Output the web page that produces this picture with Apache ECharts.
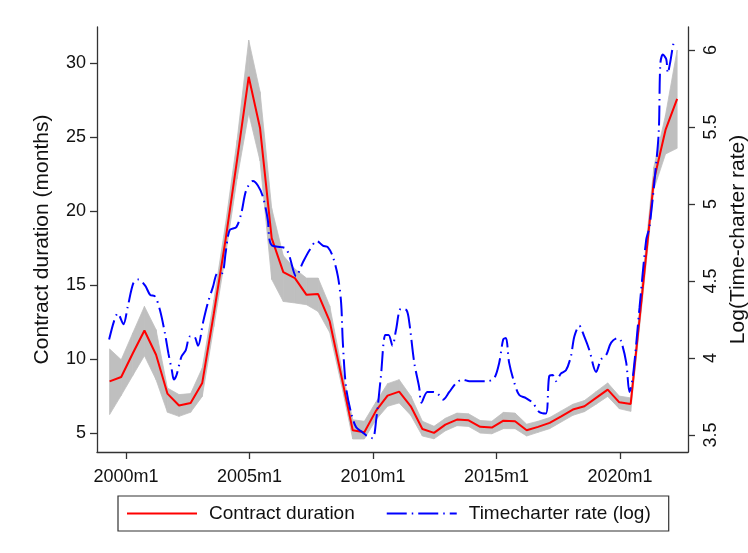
<!DOCTYPE html>
<html>
<head>
<meta charset="utf-8">
<script src="https://cdn.jsdelivr.net/npm/echarts@6/dist/echarts.min.js"></script>
<style>
  html, body { margin: 0; padding: 0; background: #fff; }
  #chart { width: 748px; height: 553px; }
</style>
</head>
<body>
<div id="chart"></div>
<script>
// Contract duration (months), sampled roughly twice a year, with its confidence band
const durationDates = [
  1999.34, 1999.81, 2000.28, 2000.75, 2001.22, 2001.68, 2002.15, 2002.62, 2003.09, 2003.56,
  2004.03, 2004.50, 2004.97, 2005.43, 2005.90, 2006.37, 2006.84, 2007.31, 2007.78, 2008.25,
  2008.72, 2009.18, 2009.65, 2010.12, 2010.59, 2011.06, 2011.53, 2012.00, 2012.47, 2012.93,
  2013.40, 2013.87, 2014.34, 2014.81, 2015.28, 2015.75, 2016.22, 2016.68, 2017.15, 2017.62,
  2018.09, 2018.56, 2019.03, 2019.50, 2019.97, 2020.43, 2020.90, 2021.37, 2021.84, 2022.31
];
const duration = [
  8.50, 8.79, 10.4, 11.94, 10.30, 7.67, 6.86, 7.04, 8.39, 13.09,
  18.03, 23.48, 29.09, 25.61, 18.18, 15.88, 15.48, 14.35, 14.40, 12.55,
  8.87, 5.19, 5.05, 6.50, 7.53, 7.80, 6.81, 5.28, 5.01, 5.57,
  5.91, 5.86, 5.42, 5.37, 5.84, 5.80, 5.19, 5.42, 5.69, 6.13,
  6.59, 6.81, 7.38, 7.94, 7.08, 6.97, 14.5, 22.1, 25.5, 27.6
];
const durationLow = [
  6.25, 7.55, 8.90, 10.23, 8.61, 6.41, 6.13, 6.41, 7.48, 12.2,
  17.0, 22.2, 26.62, 23.4, 15.4, 13.9, 13.8, 13.68, 13.22, 11.8,
  8.3, 4.6, 4.6, 5.9, 6.81, 7.04, 6.2, 4.8, 4.61, 5.15,
  5.5, 5.45, 5.0, 4.95, 5.3, 5.3, 4.8, 5.05, 5.3, 5.75,
  6.2, 6.45, 6.95, 7.48, 6.65, 6.47, 13.9, 21.5, 23.87, 24.26
];
const durationHigh = [
  10.69, 9.96, 11.77, 13.56, 11.99, 8.05, 7.60, 7.67, 9.40, 14.0,
  19.1, 24.8, 31.57, 28.08, 20.2, 17.0, 16.1, 15.48, 15.48, 13.6,
  9.5, 5.9, 5.8, 7.1, 8.34, 8.61, 7.5, 5.8, 5.46, 6.0,
  6.35, 6.3, 5.85, 5.8, 6.4, 6.35, 5.6, 5.8, 6.05, 6.5,
  6.95, 7.2, 7.8, 8.39, 7.5, 7.38, 15.2, 23.0, 26.5, 30.9
];

// Log time-charter rate
const rateDates = [
  1999.32, 1999.52, 1999.67, 1999.90, 2000.07, 2000.31, 2000.51, 2000.78, 2000.98, 2001.18,
  2001.38, 2001.58, 2001.72, 2001.86, 2001.94, 2002.05, 2002.25, 2002.42, 2002.59, 2002.76,
  2002.92, 2003.12, 2003.32, 2003.52, 2003.71, 2003.89, 2004.05, 2004.20, 2004.47, 2004.67,
  2004.87, 2005.14, 2005.34, 2005.54, 2005.74, 2005.81, 2005.92, 2006.28, 2006.48, 2006.62,
  2006.89, 2007.16, 2007.43, 2007.73, 2007.97, 2008.17, 2008.37, 2008.58, 2008.71, 2008.78,
  2008.91, 2009.12, 2009.32, 2009.56, 2009.79, 2009.99, 2010.13, 2010.32, 2010.50, 2010.63,
  2010.79, 2010.93, 2011.13, 2011.36, 2011.47, 2011.67, 2011.87, 2011.96, 2012.20, 2012.43,
  2012.61, 2012.84, 2013.09, 2013.38, 2013.63, 2013.90, 2014.23, 2014.64, 2014.91, 2015.11,
  2015.27, 2015.38, 2015.51, 2015.72, 2015.92, 2016.19, 2016.46, 2016.73, 2017.00, 2017.13,
  2017.27, 2017.40, 2017.61, 2017.81, 2018.01, 2018.15, 2018.35, 2018.55, 2018.76, 2019.03,
  2019.23, 2019.44, 2019.64, 2019.91, 2020.04, 2020.25, 2020.38, 2020.52, 2020.79, 2021.06,
  2021.19, 2021.46, 2021.57, 2021.63, 2021.73, 2021.87, 2021.93, 2022.03, 2022.16, 2022.25
];
const rateLog = [
  4.12, 4.24, 4.29, 4.22, 4.33, 4.49, 4.51, 4.47, 4.41, 4.40,
  4.31, 4.16, 4.03, 3.92, 3.86, 3.89, 4.01, 4.05, 4.14, 4.14,
  4.08, 4.23, 4.36, 4.46, 4.55, 4.55, 4.70, 4.83, 4.85, 4.94,
  5.09, 5.15, 5.12, 5.05, 4.90, 4.77, 4.73, 4.72, 4.71, 4.66,
  4.53, 4.62, 4.70, 4.76, 4.73, 4.72, 4.66, 4.53, 4.36, 4.10,
  3.81, 3.64, 3.55, 3.52, 3.49, 3.48, 3.60, 3.88, 4.15, 4.15,
  4.08, 4.18, 4.32, 4.31, 4.23, 3.97, 3.81, 3.71, 3.78, 3.78,
  3.77, 3.73, 3.78, 3.84, 3.86, 3.85, 3.85, 3.85, 3.87, 3.97,
  4.12, 4.13, 3.97, 3.84, 3.76, 3.74, 3.71, 3.65, 3.64, 3.88,
  3.89, 3.85, 3.90, 3.92, 4.01, 4.14, 4.21, 4.14, 4.05, 3.91,
  3.99, 4.02, 4.10, 4.13, 4.11, 3.97, 3.78, 3.88, 4.33, 4.77,
  4.85, 5.26, 5.48, 5.91, 5.97, 5.94, 5.85, 5.92, 6.04, 6.07
];

// Axis ticks
const yearTicks = [2000, 2005, 2010, 2015, 2020];
const durationTicks = [5, 10, 15, 20, 25, 30];
const rateTicks = [3.5, 4, 4.5, 5, 5.5, 6];

const FONT = '"Liberation Sans", Arial, sans-serif';
const AXIS_COLOR = '#333333';
const TEXT_COLOR = '#111111';
const BAND_COLOR = '#bfbfbf';

const pairs = (xs, ys) => xs.map((x, i) => [x, ys[i]]);

// One quad of the confidence band per pair of neighbouring observations:
// [x0, low0, high0, x1, low1, high1]
const bandSegments = durationDates.slice(0, -1).map((x, i) => [
  x, durationLow[i], durationHigh[i],
  durationDates[i + 1], durationLow[i + 1], durationHigh[i + 1]
]);

function renderBand(params, api) {
  const a = api.coord([api.value(0), api.value(1)]);
  const b = api.coord([api.value(0), api.value(2)]);
  const c = api.coord([api.value(3), api.value(5)]);
  const d = api.coord([api.value(3), api.value(4)]);
  return {
    type: 'polygon',
    shape: { points: [a, b, c, d] },
    style: { fill: BAND_COLOR, stroke: BAND_COLOR, lineWidth: 0.8 },
    silent: true
  };
}

const chart = echarts.init(document.getElementById('chart'), null, { renderer: 'canvas' });

const axisCommon = {
  axisLine: { show: true, lineStyle: { color: AXIS_COLOR, width: 1.3 } },
  axisTick: { show: true, inside: false, length: 7, lineStyle: { color: AXIS_COLOR, width: 1.3 } },
  splitLine: { show: false },
  nameTextStyle: { fontFamily: FONT, fontSize: 21, color: TEXT_COLOR }
};

chart.setOption({
  animation: false,
  backgroundColor: '#ffffff',
  grid: { left: 97, right: 60, top: 27, bottom: 101, containLabel: false, outerBoundsMode: 'none' },
  legend: {
    data: ['Contract duration', 'Timecharter rate (log)'],
    left: 118,
    top: 496,
    orient: 'horizontal',
    itemWidth: 70,
    itemHeight: 14,
    itemGap: 31,
    padding: [8, 18, 8, 8],
    borderColor: '#333333',
    borderWidth: 1.2,
    selectedMode: false,
    itemStyle: { opacity: 0 },
    textStyle: { fontFamily: FONT, fontSize: 19, color: TEXT_COLOR, padding: [0, 0, 0, 7] }
  },
  xAxis: {
    type: 'value',
    min: 1998.83,
    max: 2022.75,
    ...axisCommon,
    axisTick: { ...axisCommon.axisTick, customValues: yearTicks },
    axisLabel: {
      customValues: yearTicks,
      margin: 16,
      fontFamily: FONT,
      fontSize: 18,
      color: TEXT_COLOR,
      formatter: v => v + 'm1'
    }
  },
  yAxis: [
    {
      type: 'value',
      position: 'left',
      min: 3.72,
      max: 32.46,
      name: 'Contract duration (months)',
      nameLocation: 'middle',
      nameRotate: 90,
      nameGap: 44,
      ...axisCommon,
      axisTick: { ...axisCommon.axisTick, customValues: durationTicks },
      axisLabel: {
        customValues: durationTicks,
        margin: 11,
        fontFamily: FONT,
        fontSize: 18,
        color: TEXT_COLOR
      }
    },
    {
      type: 'value',
      position: 'right',
      min: 3.39,
      max: 6.149,
      name: 'Log(Time-charter rate)',
      nameLocation: 'middle',
      nameRotate: 90,
      nameGap: 33,
      ...axisCommon,
      axisTick: { ...axisCommon.axisTick, customValues: rateTicks },
      axisLabel: {
        customValues: rateTicks,
        rotate: 90,
        margin: 14,
        fontFamily: FONT,
        fontSize: 18,
        color: TEXT_COLOR
      }
    }
  ],
  series: [
    {
      name: 'confidence band',
      type: 'custom',
      yAxisIndex: 0,
      data: bandSegments,
      renderItem: renderBand,
      encode: { x: [0, 3], y: [1, 2, 4, 5] },
      clip: true,
      silent: true,
      z: 1
    },
    {
      name: 'Contract duration',
      type: 'line',
      yAxisIndex: 0,
      data: pairs(durationDates, duration),
      symbol: 'none',
      color: '#ff0000',
      lineStyle: { color: '#ff0000', width: 2 },
      z: 3
    },
    {
      name: 'Timecharter rate (log)',
      type: 'line',
      yAxisIndex: 1,
      data: pairs(rateDates, rateLog),
      symbol: 'none',
      smooth: 0.3,
      color: '#0000ff',
      lineStyle: { color: '#0000ff', width: 2, type: [20, 5, 1.5, 5] },
      z: 4
    }
  ]
});
</script>
</body>
</html>
